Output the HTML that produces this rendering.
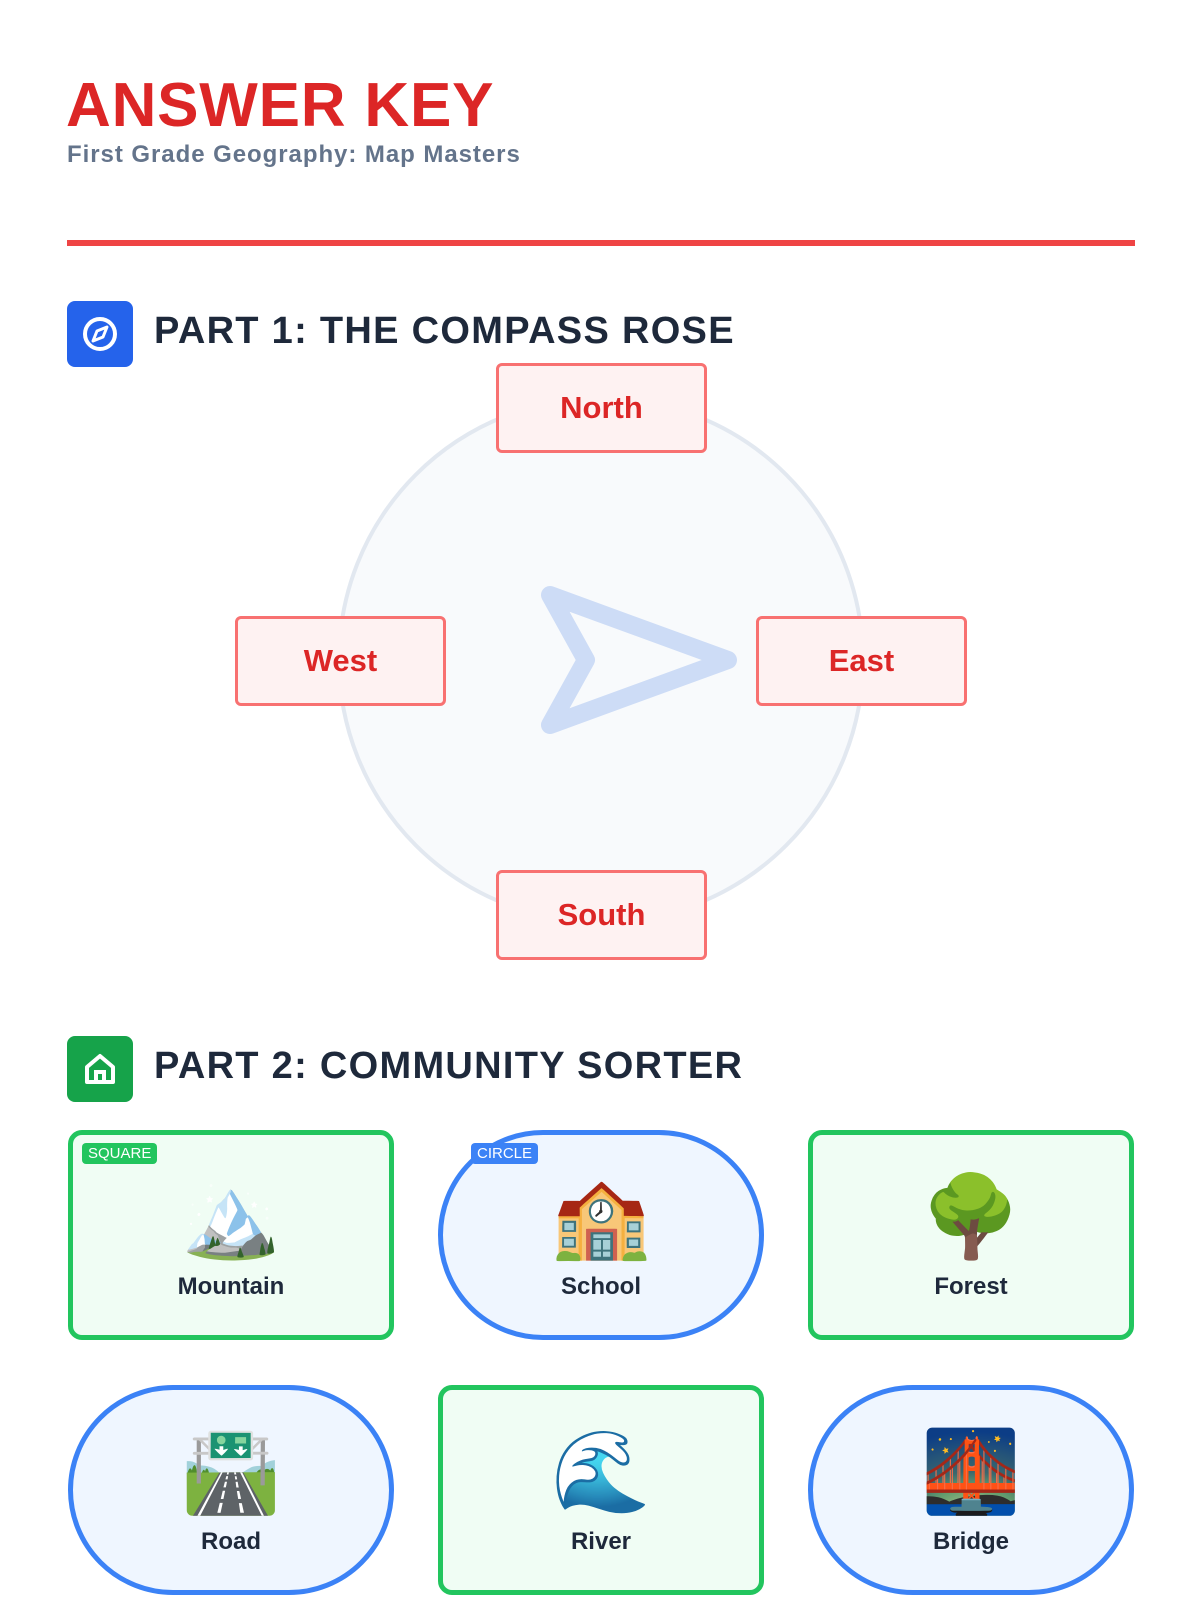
<!DOCTYPE html>
<html><head><meta charset="utf-8"><style>
*{box-sizing:border-box;margin:0;padding:0}
body{width:1200px;height:1600px;background:#fff;font-family:"Liberation Sans","DejaVu Sans",sans-serif;position:relative;overflow:hidden}
.abs{position:absolute}
h1{position:absolute;left:66px;top:70px;font-size:62px;font-weight:900;color:#dc2626;letter-spacing:0.8px}
.sub{left:67px;top:141px;font-size:24px;color:#64748b;font-weight:bold;letter-spacing:0.95px}
.line{left:67px;top:240px;width:1068px;height:6px;background:#ef4444}
.icon{width:66px;height:66px;border-radius:8px}
.h2{font-size:38px;font-weight:900;color:#1e293b;letter-spacing:1.3px}
.circle{left:337px;top:396px;width:528px;height:528px;border-radius:50%;background:#f8fafc;border:4px solid #e2e8f0}
.dir{width:211px;height:90px;background:#fef2f2;border:3px solid #f87171;border-radius:6px;display:flex;align-items:center;justify-content:center;font-size:31px;font-weight:bold;color:#dc2626}
.card{width:326px;height:210px;border:5px solid;display:flex;flex-direction:column;align-items:center;justify-content:center}
.sq{border-color:#22c55e;background:#f0fdf4;border-radius:14px}
.ci{border-color:#3b82f6;background:#eff6ff;border-radius:105px}
.em{font-size:80px;line-height:96px;font-family:"Noto Color Emoji","DejaVu Sans",sans-serif}
.lb{font-size:24px;font-weight:bold;color:#1e293b;margin-top:8px}
.badge{font-size:15px;color:#fff;padding:2px 6px;border-radius:4px}
</style></head><body>
<h1>ANSWER KEY</h1>
<div class="abs sub">First Grade Geography: Map Masters</div>
<div class="abs line"></div>

<div class="abs icon" style="left:67px;top:301px;background:#2563eb">
<svg width="66" height="66" viewBox="0 0 66 66"><circle cx="33" cy="33" r="15" fill="none" stroke="#fff" stroke-width="4"/><path d="M40 26 L36 36 L26 40 L30 30 Z" fill="none" stroke="#fff" stroke-width="3" stroke-linejoin="round"/></svg></div>
<div class="abs h2" style="left:154px;top:310px">PART 1: THE COMPASS ROSE</div>

<div class="abs circle"></div>
<svg class="abs" style="left:0;top:0" width="1200" height="1000"><path d="M550 595 L728 660 L550 725 L586 660 Z" fill="none" stroke="#cddcf6" stroke-width="18" stroke-linejoin="round"/></svg>
<div class="abs dir" style="left:496px;top:363px">North</div>
<div class="abs dir" style="left:235px;top:616px">West</div>
<div class="abs dir" style="left:756px;top:616px">East</div>
<div class="abs dir" style="left:496px;top:870px">South</div>

<div class="abs icon" style="left:67px;top:1036px;background:#16a34a">
<svg width="66" height="66" viewBox="0 0 66 66"><path d="M20 31 L33 20 L46 31 L46 46 L20 46 Z" fill="none" stroke="#fff" stroke-width="4" stroke-linejoin="round"/><path d="M29 46 V36 H37 V46" fill="none" stroke="#fff" stroke-width="4"/></svg></div>
<div class="abs h2" style="left:154px;top:1045px">PART 2: COMMUNITY SORTER</div>

<div class="abs card sq" style="left:68px;top:1130px"><div class="em">🏔️</div><div class="lb">Mountain</div></div>
<div class="abs card ci" style="left:438px;top:1130px"><div class="em">🏫</div><div class="lb">School</div></div>
<div class="abs card sq" style="left:808px;top:1130px"><div class="em">🌳</div><div class="lb">Forest</div></div>
<div class="abs card ci" style="left:68px;top:1385px"><div class="em">🛣️</div><div class="lb">Road</div></div>
<div class="abs card sq" style="left:438px;top:1385px"><div class="em">🌊</div><div class="lb">River</div></div>
<div class="abs card ci" style="left:808px;top:1385px"><div class="em">🌉</div><div class="lb">Bridge</div></div>
<div class="abs badge" style="left:82px;top:1143px;background:#22c55e">SQUARE</div>
<div class="abs badge" style="left:471px;top:1143px;background:#3b82f6">CIRCLE</div>
</body></html>
